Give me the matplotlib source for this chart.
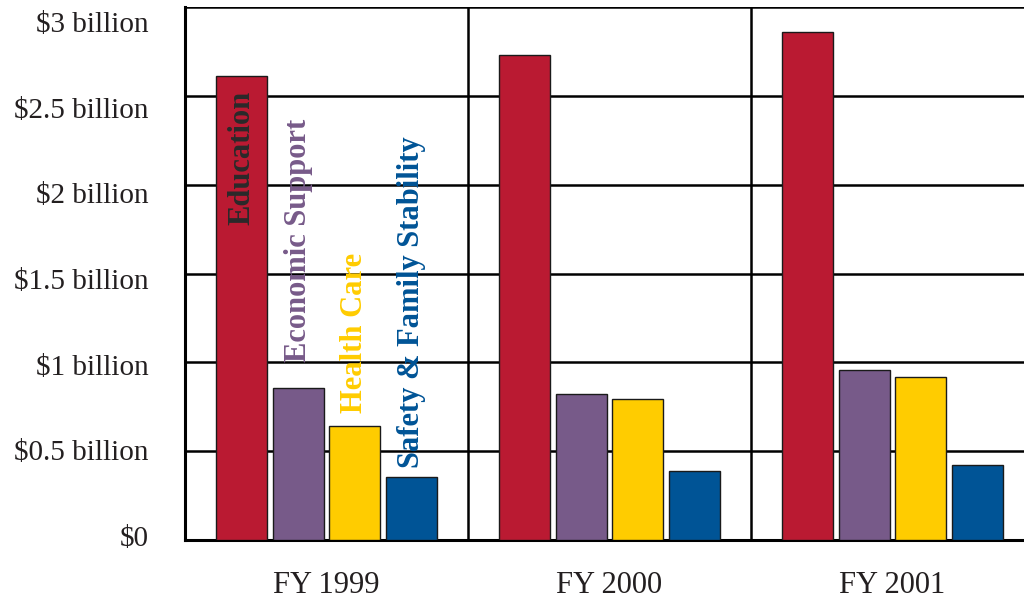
import numpy as np
import matplotlib.pyplot as plt
from matplotlib.transforms import ScaledTranslation

# data, $ billion
years = ['FY 1999', 'FY 2000', 'FY 2001']
series = ['Education', 'Economic Support', 'Health Care', 'Safety & Family Stability']
education = [2.61, 2.73, 2.86]
economic_support = [0.854, 0.822, 0.957]
health_care = [0.643, 0.794, 0.917]
safety_family = [0.356, 0.388, 0.422]
yticks = [0, 0.5, 1, 1.5, 2, 2.5, 3]
ytick_labels = ['\\$0', '\\$0.5 billion', '\\$1 billion', '\\$1.5 billion',
                '\\$2 billion', '\\$2.5 billion', '\\$3 billion']
# where the rotated series names start (bottom of text), first group only
label_base = [1.773, 1.002, 0.715, 0.405]

colors = ['#BA1A32', '#775A89', '#FFCC00', '#005496']
label_colors = ['#2A2A2A', '#775A89', '#FFCC00', '#005496']

plt.rcParams['font.family'] = ['Liberation Serif', 'DejaVu Serif']

fig = plt.figure(figsize=(10.24, 6.03), dpi=100)
ax = fig.add_axes([185/1024, 1-540/603, 1-185/1024, 533/603])

x = np.arange(len(years))
step = 0.2
width = 0.18
values = [education, economic_support, health_care, safety_family]
for i, vals in enumerate(values):
    pos = x + (i - 1.5) * step
    ax.bar(pos, vals, width=width, color=colors[i], edgecolor='#1a1a1a',
           linewidth=1.0, zorder=3)
    ax.text(pos[0], label_base[i], series[i], rotation=90, ha='center',
            va='bottom', fontsize=22, fontweight='bold',
            color=label_colors[i], zorder=4)

ax.set_xlim(-0.5, 2.465)
ax.set_ylim(0, 3)
ax.set_yticks(yticks)
ax.set_yticklabels(ytick_labels)
ax.set_xticks(x)
ax.set_xticklabels(years)
ax.tick_params(axis='y', length=0, pad=26, labelsize=21, labelcolor='#231F20')
ax.tick_params(axis='x', length=0, pad=22, labelsize=22, labelcolor='#231F20')

# the y labels sit a bit lower than their gridlines, more so near the top
for v, lab in zip(yticks, ax.get_yticklabels()):
    dy = (4 - 6.3 * v) / 100.0
    lab.set_transform(lab.get_transform() + ScaledTranslation(0, dy, fig.dpi_scale_trans))

ax.yaxis.grid(True, color='black', linewidth=1.8, zorder=0)
for sep in [0.5, 1.5]:
    ax.axvline(sep, color='black', linewidth=1.8, zorder=0)
ax.set_axisbelow(True)

for s in ['top', 'right']:
    ax.spines[s].set_visible(False)
ax.spines['left'].set_linewidth(2.2)
ax.spines['bottom'].set_linewidth(2.2)

fig.savefig('out.png', dpi=100)
